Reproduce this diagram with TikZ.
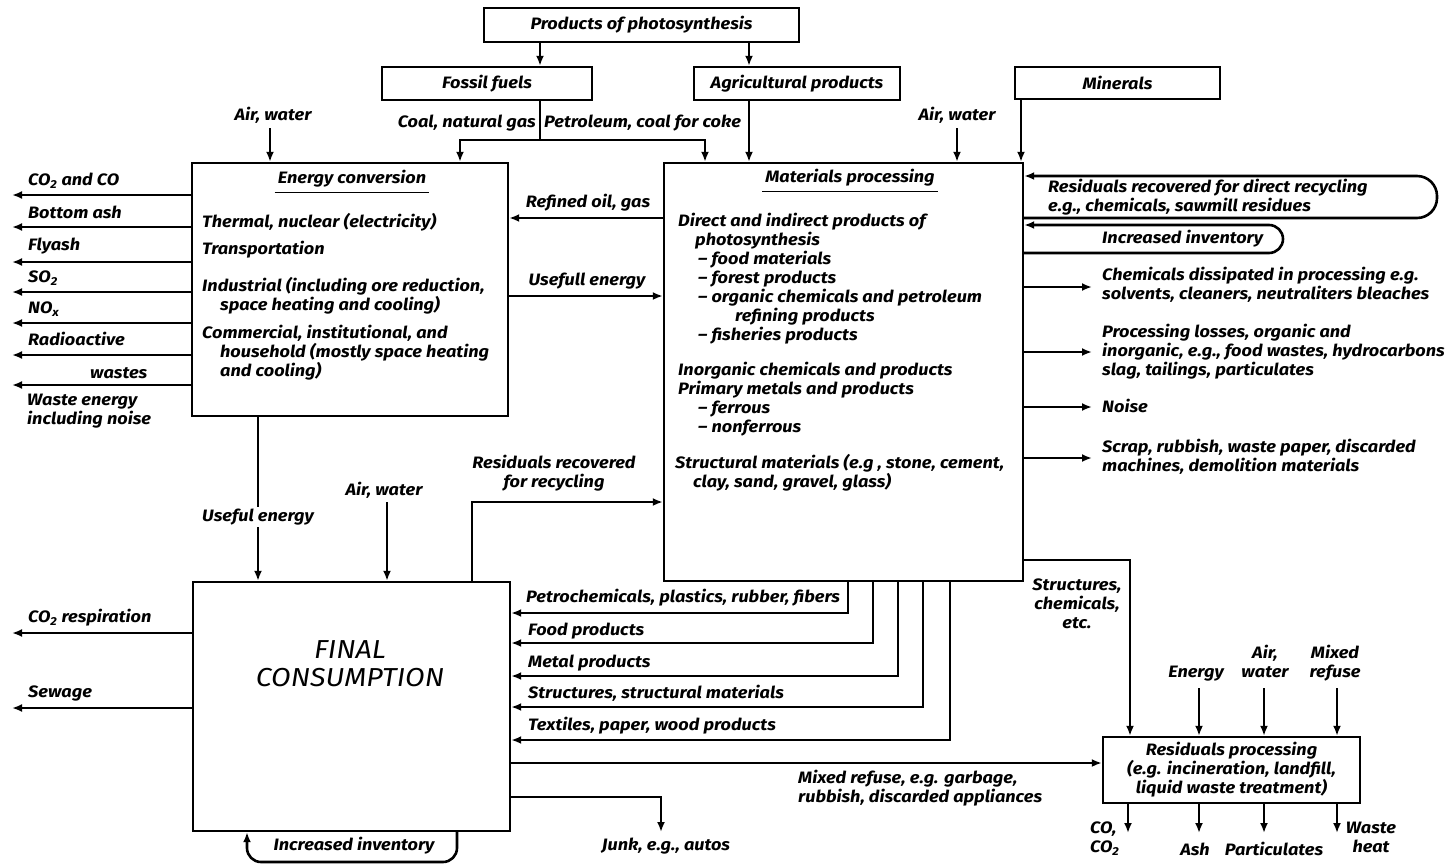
\documentclass[tikz,border=0pt]{standalone}
\usepackage{fontspec}
\setmainfont{Fira Sans}[FakeStretch=1.1]
\usetikzlibrary{arrows.meta,calc}
\begin{document}
\begin{tikzpicture}[x=1pt,y=-1pt,
  every node/.style={font=\fontsize{16.5}{19}\selectfont\bfseries\itshape},
  box/.style={draw,line width=2.4pt,inner sep=0pt,align=center},
  ln/.style={line width=2.6pt},
  arr/.style={ln,-{Latex[length=10pt,width=8pt]}},
  loopback/.style={arr,rounded corners=14pt},
  lbl/.style={inner sep=0pt,anchor=north west,align=left,execute at begin node=\strut},
  lblc/.style={lbl,anchor=north,align=center},
  lble/.style={lbl,anchor=north east,align=right},
  uline/.style={line width=1.8pt}
]
\useasboundingbox[fill=white] (0,0) rectangle (1453,865);

% ---------- boxes ----------
\node[box,minimum width=315pt,minimum height=34pt] (prod) at (641.5,25) {Products of photosynthesis};
\node[box,minimum width=210pt,minimum height=33pt] (fossil) at (487,83.5) {Fossil fuels};
\node[box,minimum width=206pt,minimum height=33pt] (agri) at (797,83.5) {Agricultural products};
\node[box,minimum width=205pt,minimum height=32pt] (minerals) at (1117.5,83) {Minerals};
\node[box,minimum width=316pt,minimum height=253pt] (energy) at (350,289.5) {};
\node[box,minimum width=359pt,minimum height=418pt] (mat) at (843.5,372) {};
\node[box,minimum width=317pt,minimum height=249pt] (final) at (351.5,706.5) {};
\node[box,minimum width=257pt,minimum height=66pt] (resid) at (1231.5,770)
  {Residuals processing\\(e.g. incineration, landfill,\\liquid waste treatment)};

% ---------- inputs from the top ----------
\coordinate (fs) at (540,140);
\coordinate (fsL) at (460,140);
\coordinate (fsR) at (705,140);
\coordinate (ag) at (749,0);
\coordinate (mn) at (1021,0);
\coordinate (aw1) at (270,128);
\coordinate (aw2) at (957,128);
\draw[arr] (prod.south -| fs) -- (fossil.north -| fs);
\draw[arr] (prod.south -| ag) -- (agri.north -| ag);
\draw[ln] (fossil.south -| fs) -- (fs);
\draw[arr] (fs) -- (fsL) -- (energy.north -| fsL);
\draw[arr] (fs) -- (fsR) -- (mat.north -| fsR);
\draw[arr] (agri.south -| ag) -- (mat.north -| ag);
\draw[arr] (minerals.south -| mn) -- (mat.north -| mn);
\draw[arr] (aw1) -- (energy.north -| aw1);
\draw[arr] (aw2) -- (mat.north -| aw2);

\node[lblc] (awE) at (273,107) {Air, water};
\node[lblc] (awM) at (957,107) {Air, water};
\node[lble] (coal) at (536,114) {Coal, natural gas};
\node[lbl] (petro) at (544,114) {Petroleum, coal for coke};

% ---------- energy conversion ----------
\node[lblc] (etitle) at (352,170) {Energy conversion};
\draw[uline] ($(etitle.south west)+(-3,3)$) -- ($(etitle.south east)+(3,3)$);
\node[lbl] (e1) at (202,213) {Thermal, nuclear (electricity)};
\node[lbl] (e2) at (202,241) {Transportation};
\node[lbl] (e3) at (202,277) {Industrial (including ore reduction,\\\hspace*{18pt}space heating and cooling)};
\node[lbl] (e4) at (202,325) {Commercial, institutional, and\\\hspace*{18pt}household (mostly space heating\\\hspace*{18pt}and cooling)};

\foreach \y [count=\i] in {195,227,262,292,323,355,385} {
  \coordinate (eo\i) at (12,\y);
  \draw[arr] (energy.west |- eo\i) -- (eo\i);
}
\node[lbl] (o1) at (28,172) {CO\textsubscript{2} and CO};
\node[lbl] (o2) at (28,205) {Bottom ash};
\node[lbl] (o3) at (28,237) {Flyash};
\node[lbl] (o4) at (28,269) {SO\textsubscript{2}};
\node[lbl] (o5) at (28,300) {NO\textsubscript{x}};
\node[lbl] (o6) at (28,332) {Radioactive};
\node[lbl] (o7) at (90,365) {wastes};
\node[lbl] (o8) at (27,394) {Waste energy\\including noise};

% ---------- energy <-> materials ----------
\coordinate (ro) at (0,218);
\coordinate (uf) at (0,296);
\draw[arr] (mat.west |- ro) -- (energy.east |- ro);
\draw[arr] (energy.east |- uf) -- (mat.west |- uf);
\node[lblc] (rol) at (588,194) {Refined oil, gas};
\node[lblc] (ufl) at (587,272) {Usefull energy};

% ---------- materials processing ----------
\node[lblc] (mtitle) at (850,169) {Materials processing};
\draw[uline] ($(mtitle.south west)+(-3,3)$) -- ($(mtitle.south east)+(3,3)$);
\node[lbl] (m1) at (678,213) {Direct and indirect products of\\
  \hspace*{17pt}photosynthesis\\
  \hspace*{20pt}-- food materials\\
  \hspace*{20pt}-- forest products\\
  \hspace*{20pt}-- organic chemicals and petroleum\\
  \hspace*{57pt}refining products\\
  \hspace*{20pt}-- fisheries products};
\node[lbl] (m2) at (678,362) {Inorganic chemicals and products\\
  Primary metals and products\\
  \hspace*{20pt}-- ferrous\\
  \hspace*{20pt}-- nonferrous};
\node[lbl] (m3) at (675,454) {Structural materials (e.g , stone, cement,\\
  \hspace*{18pt}clay, sand, gravel, glass)};

% recycling loops on the right edge
\coordinate (rdT) at (1437,176);
\coordinate (rdB) at (1437,218);
\draw[arr,rounded corners=20pt] (mat.east |- rdB) -- (rdB) -- (rdT) -- (mat.east |- rdT);
\coordinate (ivT) at (1283,225);
\coordinate (ivB) at (1283,253);
\draw[loopback] (mat.east |- ivB) -- (ivB) -- (ivT) -- (mat.east |- ivT);
\node[lbl] (rdl) at (1048,179) {Residuals recovered for direct recycling\\e.g., chemicals, sawmill residues};
\node[lbl] (ivl) at (1102,230) {Increased inventory};

% outputs on the right
\foreach \y [count=\i] in {287,352,407,458} {
  \coordinate (mo\i) at (1092,\y);
  \draw[arr] (mat.east |- mo\i) -- (mo\i);
}
\node[lbl] (r1) at (1102,267) {Chemicals dissipated in processing e.g.\\solvents, cleaners, neutraliters bleaches};
\node[lbl] (r2) at (1102,324) {Processing losses, organic and\\inorganic, e.g., food wastes, hydrocarbons\\slag, tailings, particulates};
\node[lbl] (r3) at (1102,399) {Noise};
\node[lbl] (r4) at (1102,439) {Scrap, rubbish, waste paper, discarded\\machines, demolition materials};

% ---------- final consumption ----------
\node[font=\fontsize{26}{28}\selectfont\mdseries\itshape,align=center] (fc) at (350,664) {FINAL\\CONSUMPTION};

\coordinate (ue) at (258,0);
\draw[arr] (energy.south -| ue) -- node[pos=0.61,fill=white,inner sep=2pt] (uel) {Useful energy} (final.north -| ue);
\coordinate (aw3) at (387,502);
\draw[arr] (aw3) -- (final.north -| aw3);
\node[lblc] (awF) at (384,482) {Air, water};

\coordinate (rr) at (472,502);
\draw[arr] (final.north -| rr) -- (rr) -- (mat.west |- rr);
\node[lblc] (rrl) at (554,455) {Residuals recovered\\for recycling};

\coordinate (fo1) at (12,633);
\coordinate (fo2) at (12,708);
\draw[arr] (final.west |- fo1) -- (fo1);
\draw[arr] (final.west |- fo2) -- (fo2);
\node[lbl] (f1) at (28,609) {CO\textsubscript{2} respiration};
\node[lbl] (f2) at (28,684) {Sewage};

% products delivered to final consumption
\foreach \x/\y [count=\i] in {848/613,873/643,898/676,923/707,950/740} {
  \coordinate (pd\i) at (\x,\y);
  \draw[arr] (mat.south -| pd\i) -- (pd\i) -- (final.east |- pd\i);
}
\node[lbl] (p1) at (526,589) {Petrochemicals, plastics, rubber, fibers};
\node[lbl] (p2) at (528,622) {Food products};
\node[lbl] (p3) at (528,654) {Metal products};
\node[lbl] (p4) at (528,685) {Structures, structural materials};
\node[lbl] (p5) at (528,717) {Textiles, paper, wood products};

% refuse and junk
\coordinate (mr) at (0,763);
\draw[arr] (final.east |- mr) -- (resid.west |- mr);
\node[lbl] (mrl) at (798,770) {Mixed refuse, e.g. garbage,\\rubbish, discarded appliances};
\coordinate (jk) at (661,797);
\coordinate (jkE) at (661,832);
\draw[arr] (final.east |- jk) -- (jk) -- (jkE);
\node[lblc] (jkl) at (666,837) {Junk, e.g., autos};

% inventory loop under final consumption
\coordinate (biR) at (457,862);
\coordinate (biL) at (247,862);
\draw[loopback] (final.south -| biR) -- (biR) -- (biL) -- (final.south -| biL);
\node[lblc] (bil) at (354,837) {Increased inventory};

% ---------- residuals processing ----------
\coordinate (sc) at (1130,560);
\draw[arr] (mat.east |- sc) -- (sc) -- (resid.north -| sc);
\node[lblc] (scl) at (1077,579) {Structures,\\chemicals,\\etc.};

\foreach \x [count=\i] in {1199,1264,1337} {
  \coordinate (ri\i) at (\x,688);
  \draw[arr] (ri\i) -- (resid.north -| ri\i);
}
\node[lblc] (i1) at (1196,664) {Energy};
\node[lblc] (i2) at (1265,645) {Air,\\water};
\node[lblc] (i3) at (1335,645) {Mixed\\refuse};

\foreach \x [count=\i] in {1128,1199,1264,1337} {
  \coordinate (rs\i) at (\x,833);
  \draw[arr] (resid.south -| rs\i) -- (rs\i);
}
\node[lbl] (q1) at (1090,822) {CO,\\CO\textsubscript{2}};
\node[lblc] (q2) at (1195,842) {Ash};
\node[lblc] (q3) at (1274,842) {Particulates};
\node[lblc] (q4) at (1371,822) {Waste\\heat};
\end{tikzpicture}
\end{document}
